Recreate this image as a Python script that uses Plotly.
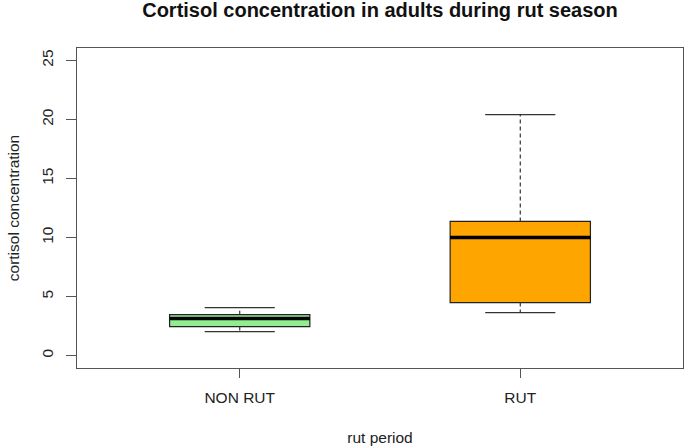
import plotly.graph_objects as go

categories = ["NON RUT", "RUT"]
positions = [1, 2]
q1 = [2.46, 4.49]
median = [3.14, 10.0]
q3 = [3.47, 11.36]
lower_whisker = [2.03, 3.64]
upper_whisker = [4.07, 20.4]
fills = ["#90EE90", "#FFA500"]

box_w = 0.5
cap_w = 0.25

fig = go.Figure()
for i in range(len(categories)):
    x = positions[i]
    # whiskers (dashed)
    fig.add_trace(go.Scatter(x=[x, x, None, x, x],
                             y=[q3[i], upper_whisker[i], None, q1[i], lower_whisker[i]],
                             mode="lines", line=dict(color="#333333", width=1.2, dash="4px,3px"),
                             showlegend=False, hoverinfo="skip"))
    # caps
    fig.add_trace(go.Scatter(x=[x - cap_w / 2, x + cap_w / 2, None, x - cap_w / 2, x + cap_w / 2],
                             y=[upper_whisker[i], upper_whisker[i], None, lower_whisker[i], lower_whisker[i]],
                             mode="lines", line=dict(color="#333333", width=1.2),
                             showlegend=False, hoverinfo="skip"))
    # box
    fig.add_trace(go.Box(x=[x], q1=[q1[i]], median=[median[i]], q3=[q3[i]],
                         lowerfence=[q1[i]], upperfence=[q3[i]],
                         width=box_w, fillcolor=fills[i],
                         line=dict(color="#222222", width=1.2),
                         showlegend=False, boxpoints=False))
    # thick median
    fig.add_trace(go.Scatter(x=[x - box_w / 2, x + box_w / 2], y=[median[i], median[i]],
                             mode="lines", line=dict(color="black", width=3.5),
                             showlegend=False, hoverinfo="skip"))

fig.update_layout(
    width=685, height=448,
    margin=dict(l=77, r=2, t=48, b=80),
    paper_bgcolor="white", plot_bgcolor="white",
    font=dict(family="Liberation Sans, Arial", size=15.5, color="#222222"),
    title=dict(text="<b>Cortisol concentration in adults during rut season</b>",
               x=(77 + 683) / 2 / 685, xanchor="center",
               yref="container", y=1 - 10 / 448, yanchor="middle",
               font=dict(size=20, color="#111111")),
    xaxis=dict(range=[0.42, 2.58], tickmode="array", tickvals=positions, ticktext=categories,
               showgrid=False, zeroline=False, showline=True, mirror=True,
               linecolor="#555555", linewidth=1.3, ticks="outside", ticklen=9,
               tickcolor="#555555", title=dict(text="rut period", standoff=27,
                                                  font=dict(size=15.5)),
               ticklabelstandoff=6),
    yaxis=dict(range=[-1.05, 26.05], tickvals=[0, 5, 10, 15, 20, 25], tickangle=-90,
               showgrid=False, zeroline=False, showline=True, mirror=True,
               linecolor="#555555", linewidth=1.3, ticks="outside", ticklen=10,
               tickcolor="#555555", title=dict(text="cortisol concentration", standoff=15,
                                                  font=dict(size=15.5)),
               ticklabelstandoff=7),
)

fig.write_html("out.html")
